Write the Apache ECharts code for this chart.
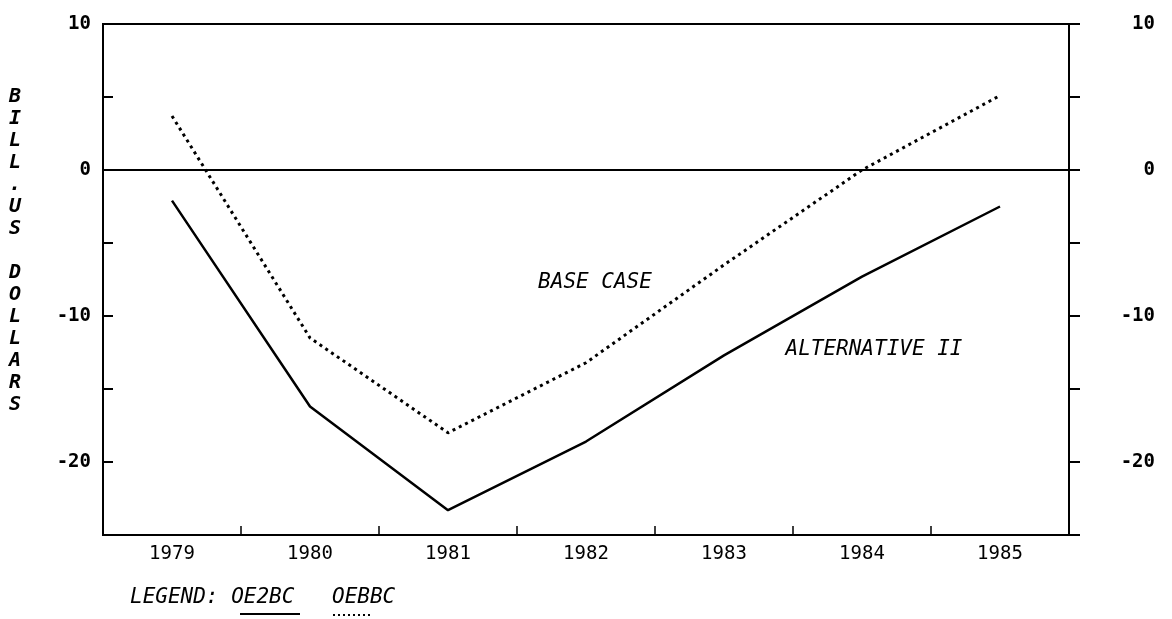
<!DOCTYPE html>
<html>
<head>
<meta charset="utf-8">
<script src="https://cdn.jsdelivr.net/npm/echarts@6/dist/echarts.min.js"></script>
<style>
html,body{margin:0;padding:0;background:#fff;}
#chart{width:1172px;height:619px;}
</style>
</head>
<body>
<div id="chart"></div>
<script>
var years = ['1979', '1980', '1981', '1982', '1983', '1984', '1985'];
var oe2bc = [-2.1, -16.2, -23.3, -18.6, -12.7, -7.3, -2.5];   // ALTERNATIVE II (solid)
var oebbc = [3.7, -11.5, -18.0, -13.2, -6.5, 0.0, 5.1];       // BASE CASE (dotted)
var yTickLabels = [10, 0, -10, -20];
var yTitle = 'BILL.US DOLLARS';

var MONO = '"DejaVu Sans Mono", "Liberation Mono", monospace';

function yFmt(v) { return yTickLabels.indexOf(v) >= 0 ? String(v) : ''; }

var chart = echarts.init(document.getElementById('chart'), null, { renderer: 'canvas' });

var yAxisBase = {
  type: 'value', min: -25, max: 10, interval: 5,
  splitLine: { show: false },
  axisLine: { show: true, onZero: false, lineStyle: { color: '#000', width: 2 } }
};

chart.setOption({
  animation: false,
  backgroundColor: '#fff',
  grid: { left: 103, right: 103, top: 24, bottom: 84, show: true, borderColor: '#000', borderWidth: 2, backgroundColor: 'transparent' },
  xAxis: {
    type: 'category', data: years, boundaryGap: true,
    axisLine: { show: true, onZero: false, lineStyle: { color: '#000', width: 2 } },
    axisTick: { show: true, inside: true, length: 9, lineStyle: { color: '#000', width: 1.5 } },
    axisLabel: { color: '#000', fontFamily: MONO, fontSize: 19, margin: 10 },
    splitLine: { show: false }
  },
  yAxis: [
    Object.assign({}, yAxisBase, {
      position: 'left',
      axisTick: { show: true, inside: true, length: 10, lineStyle: { color: '#000', width: 2 } },
      axisLabel: { color: '#000', fontFamily: MONO, fontSize: 19, fontWeight: 'bold', margin: 12, formatter: yFmt }
    }),
    Object.assign({}, yAxisBase, {
      position: 'right',
      axisTick: { show: true, inside: false, length: 11, lineStyle: { color: '#000', width: 2 } },
      axisLabel: { color: '#000', fontFamily: MONO, fontSize: 19, fontWeight: 'bold', margin: 86, align: 'right', formatter: yFmt }
    })
  ],
  series: [
    {
      name: 'OE2BC', type: 'line', data: oe2bc, symbol: 'none',
      lineStyle: { color: '#000', width: 2.5 },
      markLine: {
        silent: true, symbol: 'none', label: { show: false },
        lineStyle: { color: '#000', width: 2, type: 'solid' },
        data: [{ yAxis: 0 }]
      }
    },
    {
      name: 'OEBBC', type: 'line', data: oebbc, symbol: 'none',
      lineStyle: { color: '#000', width: 3, type: [3, 4], cap: 'butt' }
    }
  ],
  graphic: [
    {
      type: 'text', left: 9, top: 86,
      style: { text: yTitle.split('').join('\n'), fill: '#000', font: 'italic bold 20px ' + MONO, lineHeight: 22, align: 'center' }
    },
    {
      type: 'text', x: 595, y: 283,
      style: { text: 'BASE CASE', fill: '#000', font: 'italic 21px ' + MONO, align: 'center', verticalAlign: 'middle' }
    },
    {
      type: 'text', x: 874, y: 350,
      style: { text: 'ALTERNATIVE II', fill: '#000', font: 'italic 21px ' + MONO, align: 'center', verticalAlign: 'middle' }
    },
    {
      type: 'text', x: 130, y: 598,
      style: { text: 'LEGEND: OE2BC', fill: '#000', font: 'italic 21px ' + MONO, align: 'left', verticalAlign: 'middle' }
    },
    {
      type: 'text', x: 332, y: 598,
      style: { text: 'OEBBC', fill: '#000', font: 'italic 21px ' + MONO, align: 'left', verticalAlign: 'middle' }
    },
    {
      type: 'line', shape: { x1: 240, y1: 614, x2: 300, y2: 614 },
      style: { stroke: '#000', lineWidth: 2 }
    },
    {
      type: 'line', shape: { x1: 333, y1: 615, x2: 373, y2: 615 },
      style: { stroke: '#000', lineWidth: 2, lineDash: [2, 3] }
    }
  ]
});
</script>
</body>
</html>
